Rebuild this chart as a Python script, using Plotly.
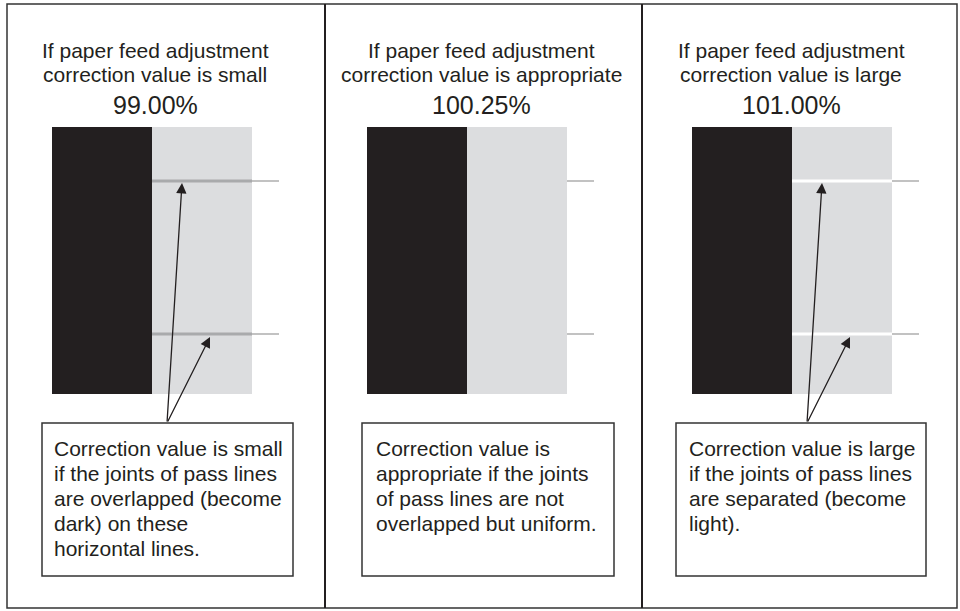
import plotly.graph_objects as go

# Datos del diagrama
titulo_linea1 = ["If paper feed adjustment", "If paper feed adjustment", "If paper feed adjustment"]
titulo_linea2 = ["correction value is small", "correction value is appropriate", "correction value is large"]
porcentajes = [99.00, 100.25, 101.00]
tipo_union = ["oscura", "ninguna", "clara"]
notas = [
    ["Correction value is small", "if the joints of pass lines", "are overlapped (become",
     "dark) on these", "horizontal lines."],
    ["Correction value is", "appropriate if the joints", "of pass lines are not",
     "overlapped but uniform."],
    ["Correction value is large", "if the joints of pass lines", "are separated (become",
     "light)."],
]

# Geometria (pixeles, eje y invertido)
centro_panel = [155, 481, 791]
barra_negra_x = [52, 367, 692]
ancho_barra = 100
barra_top, barra_bottom = 127, 394
lineas_y = [181, 334]
caja_x = [(42, 293), (362, 614), (676, 926)]
caja_y = (423, 576)
texto_x = [52, 374, 687]

NEGRO = "#231f20"
GRIS = "#dcdddf"
FUENTE = "Liberation Sans, Arial, sans-serif"

fig = go.Figure()
shapes = []
annotations = []

# Marco exterior y divisores
shapes.append(dict(type="rect", x0=7, y0=4, x1=957, y1=608,
                   line=dict(color="#333333", width=1.5)))
for xd in [325, 642]:
    shapes.append(dict(type="line", x0=xd, y0=4, x1=xd, y1=608,
                       line=dict(color="#231f20", width=2)))

for i in range(3):
    cx = centro_panel[i]
    # Titulos
    annotations.append(dict(x=cx, y=50, text=titulo_linea1[i], showarrow=False,
                            font=dict(size=21, color=NEGRO, family=FUENTE)))
    annotations.append(dict(x=cx, y=74, text=titulo_linea2[i], showarrow=False,
                            font=dict(size=21, color=NEGRO, family=FUENTE)))
    annotations.append(dict(x=cx, y=105, text=f"{porcentajes[i]:.2f}%", showarrow=False,
                            font=dict(size=25, color=NEGRO, family=FUENTE)))

    # Barras negra y gris
    bx = barra_negra_x[i]
    shapes.append(dict(type="rect", x0=bx, y0=barra_top, x1=bx + ancho_barra, y1=barra_bottom,
                       fillcolor=NEGRO, line=dict(width=0), layer="below"))
    gx0 = bx + ancho_barra
    gx1 = gx0 + ancho_barra
    shapes.append(dict(type="rect", x0=gx0, y0=barra_top, x1=gx1, y1=barra_bottom,
                       fillcolor=GRIS, line=dict(width=0), layer="below"))

    # Lineas horizontales de union y marcas
    for ly in lineas_y:
        if tipo_union[i] == "oscura":
            shapes.append(dict(type="line", x0=gx0, y0=ly, x1=gx1, y1=ly,
                               line=dict(color="#a9aaac", width=3)))
        elif tipo_union[i] == "clara":
            shapes.append(dict(type="line", x0=gx0, y0=ly, x1=gx1, y1=ly,
                               line=dict(color="#ffffff", width=3)))
        shapes.append(dict(type="line", x0=gx1, y0=ly, x1=gx1 + 27, y1=ly,
                           line=dict(color="#999999", width=1.2)))

    # Caja de nota
    shapes.append(dict(type="rect", x0=caja_x[i][0], y0=caja_y[0], x1=caja_x[i][1], y1=caja_y[1],
                       line=dict(color="#333333", width=1.5), fillcolor="white"))
    for j, linea in enumerate(notas[i]):
        annotations.append(dict(x=texto_x[i], y=448 + 25 * j, text=linea, showarrow=False,
                                xanchor="left", font=dict(size=21, color=NEGRO, family=FUENTE)))

    # Flechas
    if tipo_union[i] != "ninguna":
        base_x = gx0 + 15
        for punta_x, punta_y in [(gx0 + 30, lineas_y[0] + 2), (gx0 + 58, lineas_y[1] + 3)]:
            annotations.append(dict(x=punta_x, y=punta_y, ax=base_x, ay=caja_y[0],
                                    xref="x", yref="y", axref="x", ayref="y",
                                    text="", showarrow=True, arrowhead=2, arrowsize=1.6,
                                    arrowwidth=1.3, arrowcolor=NEGRO, standoff=0))

fig.update_layout(
    width=960, height=611,
    margin=dict(l=0, r=0, t=0, b=0),
    paper_bgcolor="white", plot_bgcolor="white",
    xaxis=dict(range=[0, 960], visible=False, fixedrange=True),
    yaxis=dict(range=[611, 0], visible=False, fixedrange=True),
    shapes=shapes, annotations=annotations, showlegend=False,
)

# quitar el margen por defecto del body para que el dibujo empiece en (0, 0)
fig.write_html("out.html", config={"displayModeBar": False},
               post_script="document.body.style.margin='0';document.body.style.overflow='hidden';")
